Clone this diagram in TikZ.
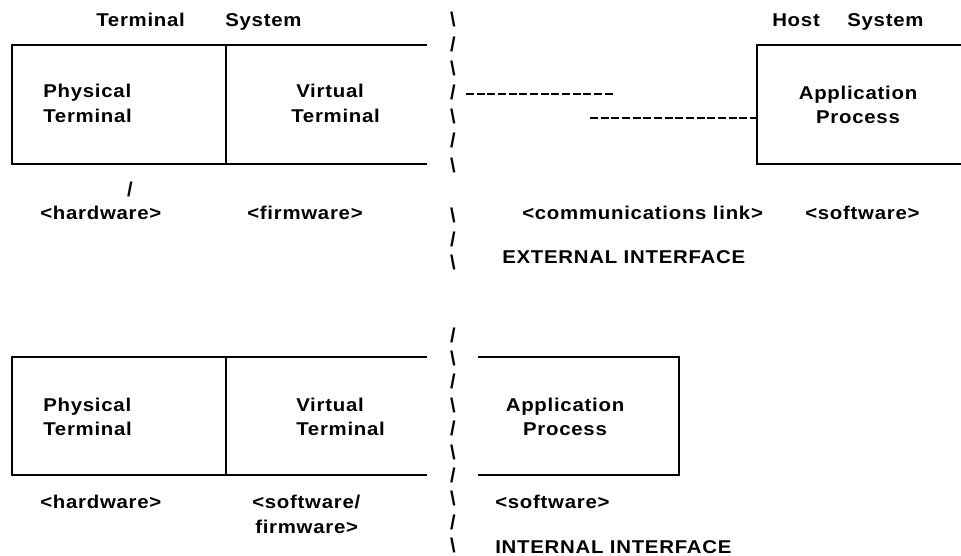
\documentclass[tikz,border=0pt]{standalone}
\usepackage{fontspec}
\newfontfamily\labelfont{Liberation Sans Bold}[FakeStretch=1.1,LetterSpace=4]
\newfontfamily\markfont{Liberation Sans Bold}
\begin{document}
\begin{tikzpicture}[x=0.75pt,y=-0.75pt,
  lbl/.style={font=\labelfont\fontsize{13.9}{18}\selectfont,
    inner sep=0pt, anchor=base west},
  ctr/.style={lbl, anchor=base},
  slashmark/.style={font=\markfont\fontsize{15}{18}\selectfont,
    inner sep=0pt, anchor=base},
  rule/.style={line width=2.1pt, line join=miter},
  dashlink/.style={line width=2.2pt, dash pattern=on 6pt off 2pt}]
\useasboundingbox (0,0) rectangle (961,556);

% ---------- external interface ----------
\node[lbl] (tsA) at (96,27) {Terminal};
\node[lbl] (tsB) at (225,27) {System};
\node[lbl] (hsA) at (772,27) {Host};
\node[lbl] (hsB) at (847,27) {System};

% terminal system box (open on the right)
\coordinate (ttl) at (12,45);  \coordinate (ttr) at (427,45);
\coordinate (tbl) at (12,164); \coordinate (tbr) at (427,164);
\coordinate (tdt) at (226,45); \coordinate (tdb) at (226,164);
\draw[rule] (ttr) -- (ttl) -- (tbl) -- (tbr);
\draw[rule] (tdt) -- (tdb);

\node[lbl] (pt1) at (43,98) {Physical};
\node[lbl] (pt2) at (43,123) {Terminal};
\node[lbl] (vt1) at (296,98) {Virtual};
\node[lbl] (vt2) at (291,123) {Terminal};

% host application box (open on the right)
\coordinate (htl) at (961,45);  \coordinate (hcl) at (757,45);
\coordinate (hbl) at (757,164); \coordinate (hbr) at (961,164);
\draw[rule] (htl) -- (hcl) -- (hbl) -- (hbr);
\node[ctr] (ap1) at (858,100) {Application};
\node[ctr] (ap2) at (858,124) {Process};

% communications link
\coordinate (l1a) at (466,94);  \coordinate (l1b) at (612.5,94);
\coordinate (l2a) at (590,118); \coordinate (l2b) at (757,118);
\draw[dashlink] (l1a) -- (l1b);
\draw[dashlink] (l2a) -- (l2b);

% interface boundary
\foreach \i/\c in {0/\textbackslash,1/{/},2/\textbackslash,3/{/},4/\textbackslash,5/{/},6/\textbackslash}
  \node[slashmark] (es\i) at (453,{27+24.2*\i}) {\c};
\node[slashmark] (es7) at (453,223) {\textbackslash};
\node[slashmark] (es8) at (453,247) {/};
\node[slashmark] (es9) at (453,270) {\textbackslash};

\node[slashmark] (hwmark) at (130,197) {/};
\node[lbl] (hw1) at (40,220) {<hardware>};
\node[lbl] (fw1) at (247,220) {<firmware>};
\node[lbl] (cl) at (522,220) {<communications link>};
\node[lbl] (sw1) at (805,220) {<software>};
\node[lbl] (ext) at (502,263) {EXTERNAL INTERFACE};

% ---------- internal interface ----------
\coordinate (btl) at (12,357);  \coordinate (btr) at (427,357);
\coordinate (bbl) at (12,475);  \coordinate (bbr) at (427,475);
\coordinate (bdt) at (226,357); \coordinate (bdb) at (226,475);
\draw[rule] (btr) -- (btl) -- (bbl) -- (bbr);
\draw[rule] (bdt) -- (bdb);

\node[lbl] (pb1) at (43,411) {Physical};
\node[lbl] (pb2) at (43,435) {Terminal};
\node[lbl] (vb1) at (296,411) {Virtual};
\node[lbl] (vb2) at (296,435) {Terminal};

% local application box (open on the left)
\coordinate (atl) at (478,357); \coordinate (atr) at (679,357);
\coordinate (abr) at (679,475); \coordinate (abl) at (478,475);
\draw[rule] (atl) -- (atr) -- (abr) -- (abl);
\node[ctr] (aq1) at (565,411) {Application};
\node[ctr] (aq2) at (565,435) {Process};

\foreach \i/\c in {0/{/},1/\textbackslash,2/{/},3/\textbackslash,4/{/},5/\textbackslash,6/{/},7/\textbackslash,8/{/},9/\textbackslash}
  \node[slashmark] (is\i) at (453,{342+23.4*\i}) {\c};

\node[lbl] (hw2) at (40,508) {<hardware>};
\node[lbl] (sf1) at (252,508) {<software/};
\node[lbl] (sf2) at (255,533) {firmware>};
\node[lbl] (sw2) at (495,508) {<software>};
\node[lbl] (int) at (495,553) {INTERNAL INTERFACE};
\end{tikzpicture}
\end{document}
